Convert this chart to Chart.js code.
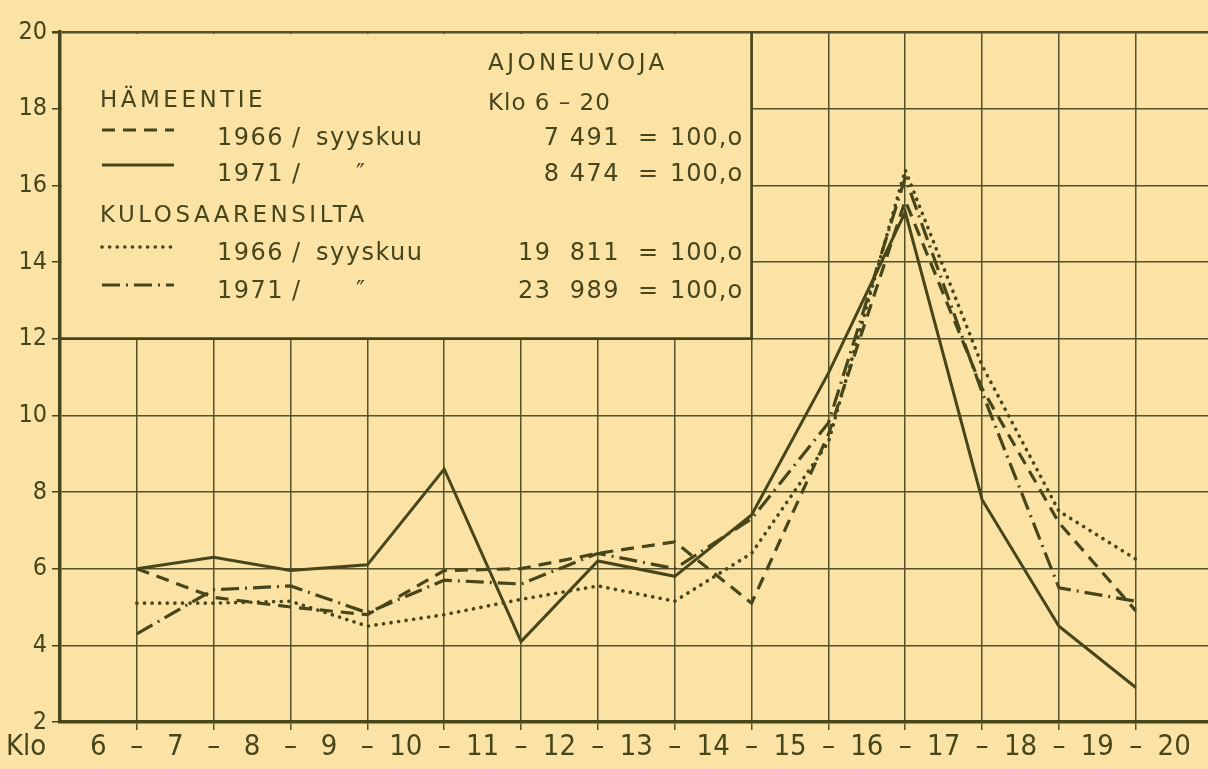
<!DOCTYPE html>
<html>
<head>
<meta charset="utf-8">
<script src="https://cdn.jsdelivr.net/npm/chart.js@4"></script>
<style>
    body { margin: 0; background: #fbe3a6; }
    canvas { display: block; }
</style>
</head>
<body>
<canvas id="kaavio" width="1208" height="769"></canvas>
<script>
// Tuntiosuudet (%) klo 6-20, luettu kuvasta
const tunnit = ['6', '7', '8', '9', '10', '11', '12', '13', '14', '15', '16', '17', '18', '19', '20'];
const hameentie1966 = [6.0, 5.25, 5.0, 4.8, 5.95, 6.0, 6.4, 6.7, 5.1, 9.5, 15.6, 10.7, 7.2, 4.9];
const hameentie1971 = [6.0, 6.3, 5.95, 6.1, 8.6, 4.1, 6.2, 5.8, 7.4, 11.1, 15.3, 7.8, 4.5, 2.9];
const kulosaari1966 = [5.1, 5.1, 5.15, 4.5, 4.8, 5.2, 5.55, 5.15, 6.4, 9.3, 16.4, 11.3, 7.5, 6.25];
const kulosaari1971 = [4.3, 5.45, 5.55, 4.85, 5.7, 5.6, 6.4, 6.0, 7.3, 9.8, 16.2, 10.6, 5.5, 5.15];
const yTikit = [2, 4, 6, 8, 10, 12, 14, 16, 18, 20];

// Selitteen tekstit
const paikat = ['HÄMEENTIE', 'KULOSAARENSILTA'];
const vuodet = ['1966', '1971', '1966', '1971'];
const kuukaudet = ['syyskuu', '″', 'syyskuu', '″'];
const summat = ['7 491', '8 474', '19  811', '23  989'];

const paperi = '#fbe3a6';
const muste = '#47451a';
const fontti = '"DejaVu Sans Condensed", "DejaVu Sans", sans-serif';
const leveaFontti = '"DejaVu Sans", sans-serif';

// tyylit: katkoviiva, yhtenäinen, pisteviiva, pistekatkoviiva
const viivat = [
    { dash: [13, 8], leveys: 3.2, cap: 'butt' },
    { dash: [], leveys: 3, cap: 'butt' },
    { dash: [0.1, 7.5], leveys: 3.6, cap: 'round' },
    { dash: [18, 6, 2, 6], leveys: 3.2, cap: 'butt' }
];

function pisteet(arvot) {
    return arvot.map((v, i) => ({ x: i + 1, y: v }));
}

const sarjat = [hameentie1966, hameentie1971, kulosaari1966, kulosaari1971];

const seliteLaatikko = {
    id: 'seliteLaatikko',
    beforeDatasetsDraw(chart) {
        const ctx = chart.ctx;
        const sx = chart.scales.x;
        const sy = chart.scales.y;
        const x0 = sx.getPixelForValue(0);
        const x1 = sx.getPixelForValue(9);
        const y0 = sy.getPixelForValue(20);
        const y1 = sy.getPixelForValue(12);
        ctx.save();
        ctx.fillStyle = paperi;
        ctx.fillRect(x0 + 2, y0 + 2, x1 - x0 - 2, y1 - y0 - 2);
        ctx.strokeStyle = muste;
        ctx.lineWidth = 2.6;
        ctx.beginPath();
        ctx.moveTo(x1, y0);
        ctx.lineTo(x1, y1);
        ctx.lineTo(x0, y1);
        ctx.stroke();

        ctx.fillStyle = muste;
        ctx.textBaseline = 'alphabetic';
        ctx.font = '23px ' + leveaFontti;
        ctx.letterSpacing = '3.5px';
        ctx.fillText('AJONEUVOJA', 488, 70);
        ctx.fillText(paikat[0], 100, 107);
        ctx.fillText(paikat[1], 100, 222);
        ctx.letterSpacing = '1px';
        ctx.fillText('Klo 6 – 20', 488, 110);

        const naytteet = [130, 165, 247, 285];
        const rivit = [145, 181, 260, 298];
        ctx.font = '24px ' + leveaFontti;
        ctx.letterSpacing = '1.5px';
        for (let i = 0; i < 4; i++) {
            const v = viivat[i];
            ctx.save();
            ctx.strokeStyle = muste;
            ctx.lineWidth = v.leveys;
            ctx.lineCap = v.cap;
            ctx.setLineDash(v.dash);
            ctx.beginPath();
            ctx.moveTo(102, naytteet[i]);
            ctx.lineTo(174, naytteet[i]);
            ctx.stroke();
            ctx.restore();

            ctx.textAlign = 'left';
            ctx.fillText(vuodet[i], 217, rivit[i]);
            ctx.fillText('/', 292, rivit[i]);
            if (kuukaudet[i] === '″') {
                ctx.fillText(kuukaudet[i], 356, rivit[i]);
            } else {
                ctx.fillText(kuukaudet[i], 316, rivit[i]);
            }
            ctx.textAlign = 'right';
            ctx.fillText(summat[i], 620, rivit[i]);
            ctx.textAlign = 'left';
            ctx.fillText('=', 638, rivit[i]);
            ctx.letterSpacing = '1px';
            ctx.fillText('100,o', 670, rivit[i]);
            ctx.letterSpacing = '1.5px';
        }
        ctx.restore();
    },
    afterDraw(chart) {
        const ctx = chart.ctx;
        ctx.save();
        ctx.fillStyle = muste;
        ctx.font = '29px ' + fontti;
        ctx.textBaseline = 'alphabetic';
        ctx.fillText('Klo', 6, 755);
        ctx.restore();
    }
};

new Chart(document.getElementById('kaavio'), {
    type: 'line',
    data: {
        datasets: sarjat.map((s, i) => ({
            label: vuodet[i],
            data: pisteet(s),
            borderColor: muste,
            borderWidth: viivat[i].leveys,
            borderDash: viivat[i].dash,
            borderCapStyle: viivat[i].cap,
            borderJoinStyle: 'miter',
            pointRadius: 0,
            tension: 0,
            fill: false
        }))
    },
    options: {
        responsive: false,
        animation: false,
        layout: { padding: { top: 32, right: 0, left: 0, bottom: 0 } },
        plugins: {
            legend: { display: false },
            tooltip: { enabled: false }
        },
        scales: {
            x: {
                type: 'linear',
                min: 0,
                max: 14.94,
                afterBuildTicks: (s) => {
                    const t = [];
                    for (let v = 0.5; v <= 14.5; v += 0.5) t.push({ value: v });
                    s.ticks = t;
                },
                afterFit: (s) => { s.height = 47; },
                ticks: {
                    autoSkip: false,
                    maxRotation: 0,
                    padding: 0,
                    color: muste,
                    font: { family: fontti, size: 29 },
                    callback: (v) => (v % 1 === 0 ? '–' : tunnit[Math.floor(v)])
                },
                grid: {
                    color: (c) => (c.tick && c.tick.value % 1 === 0 ? '#55522a' : 'rgba(0,0,0,0)'),
                    tickColor: (c) => (c.tick && c.tick.value % 1 === 0 ? '#55522a' : 'rgba(0,0,0,0)'),
                    lineWidth: 1.5,
                    tickLength: 8
                },
                border: { display: true, color: muste, width: 3.5 }
            },
            y: {
                min: 2,
                max: 20,
                afterBuildTicks: (s) => { s.ticks = yTikit.map((v) => ({ value: v })); },
                afterFit: (s) => { s.width = 60; },
                ticks: {
                    padding: 5,
                    color: muste,
                    font: { family: fontti, size: 25 }
                },
                grid: {
                    color: '#55522a',
                    tickColor: muste,
                    lineWidth: (c) => (c.tick && c.tick.value === 20 ? 2.6 : 1.5),
                    tickLength: 8
                },
                border: { display: true, color: muste, width: 3.5 }
            }
        }
    },
    plugins: [seliteLaatikko]
});
</script>
</body>
</html>
